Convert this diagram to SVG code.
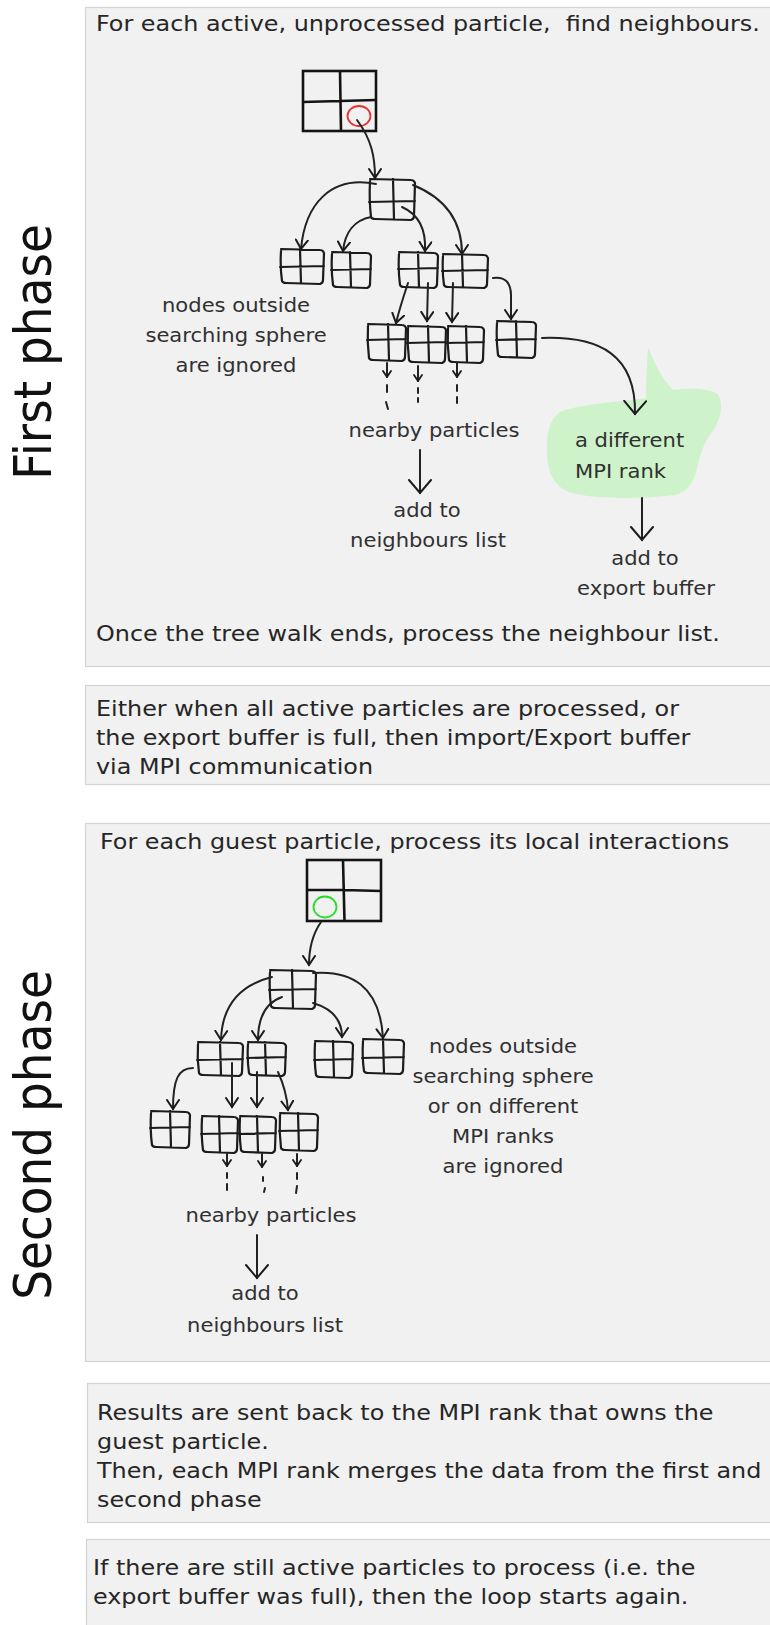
<svg xmlns="http://www.w3.org/2000/svg" width="770" height="1625" viewBox="0 0 770 1625">
<defs>
<style>
.panel{fill:#f1f1f1;stroke:#d3d3d3;stroke-width:1.2}
.t{font-family:"DejaVu Sans",sans-serif;font-size:21.5px;fill:#262626}
.l{font-family:"DejaVu Sans",sans-serif;font-size:19px;fill:#303030}
.big{font-family:"DejaVu Sans",sans-serif;font-size:47px;fill:#111}
.h{fill:none;stroke:#1b1b1b;stroke-width:2.2;stroke-linecap:round;stroke-linejoin:round}
.e{fill:none;stroke:#222;stroke-width:2;stroke-linecap:round}
.grid{fill:none;stroke:#141414;stroke-width:2.6}
</style>
<marker id="ah" viewBox="0 0 12 14" refX="10" refY="7" markerWidth="12" markerHeight="14" orient="auto" markerUnits="userSpaceOnUse"><path d="M1,1 L10,7 L1,13" fill="none" stroke="#1b1b1b" stroke-width="2" stroke-linecap="round"/></marker>
<marker id="al" viewBox="0 0 16 24" refX="14" refY="12" markerWidth="16" markerHeight="24" orient="auto" markerUnits="userSpaceOnUse"><path d="M1,1 L14,12 L1,23" fill="none" stroke="#1b1b1b" stroke-width="2" stroke-linecap="round"/></marker>
<marker id="at" viewBox="0 0 8 10" refX="7" refY="5" markerWidth="8" markerHeight="10" orient="auto" markerUnits="userSpaceOnUse"><path d="M1,1 L7,5 L1,9" fill="none" stroke="#1b1b1b" stroke-width="1.8" stroke-linecap="round"/></marker>
</defs>
<rect width="770" height="1625" fill="#ffffff"/>

<g id="panels">
<rect class="panel" x="85.5" y="7.5" width="700" height="659"/>
<rect class="panel" x="85.5" y="685.5" width="700" height="99"/>
<rect class="panel" x="85.5" y="823.5" width="700" height="538"/>
<rect class="panel" x="87.5" y="1383.5" width="700" height="139"/>
<rect class="panel" x="86.5" y="1539.5" width="700" height="100"/>
</g>

<g id="phase-labels">
<text class="big" text-anchor="middle" transform="matrix(0,-1,1.11,0,51,352)">First phase</text>
<text class="big" text-anchor="middle" transform="matrix(0,-1,1.11,0,51,1135)">Second phase</text>
</g>

<g id="panel1-text">
<text class="t" xml:space="preserve" transform="matrix(1.11,0,0,1,96,31)">For each active, unprocessed particle,  find neighbours.</text>
<text class="t" transform="matrix(1.11,0,0,1,96,641)">Once the tree walk ends, process the neighbour list.</text>
</g>

<g id="blob">
<path d="M648,347 C655,365 663,380 673,390 C690,388 710,388 717,394 C724,402 722,418 712,432 C704,442 700,455 697,468 C694,482 688,492 675,495 C640,499 600,499 576,494 C556,490 548,475 547,455 C546,435 549,420 560,412 C580,404 620,402 646,398 C646,380 647,362 648,347 Z" fill="#cef3cb"/>
</g>

<g id="grid1">
<rect class="grid" x="303" y="71" width="73" height="60"/>
<path class="grid" d="M340,71 L341,131 M303,102 L340,101 L376,100"/>
<ellipse cx="359" cy="116" rx="11.5" ry="10" fill="none" stroke="#e83232" stroke-width="1.8"/>
</g>

<g id="tree1">
<path id="n1-root" class="h" d="M370,181 Q369,200 371,217 Q372,219 375,219 L411,220 Q414,219 414,216 L415,183 Q414,180 411,180 L370,179 M393,179 L394,219 M369,202 L415,201"/>
<path id="n1-l2a" class="h" d="M281,251 Q280,267 282,281 Q283,283 286,283 L320,284 Q323,283 323,280 L324,253 Q323,250 320,250 L281,249 M300,249 L301,283 M280,267 L324,266"/>
<path id="n1-l2b" class="h" d="M332,254 Q331,270 333,285 Q334,287 337,287 L367,288 Q370,287 370,284 L371,256 Q370,253 367,253 L332,252 M350,252 L351,287 M331,270 L371,269"/>
<path id="n1-l2c" class="h" d="M399,254 Q398,270 400,285 Q401,287 404,287 L434,288 Q437,287 437,284 L438,256 Q437,253 434,253 L399,252 M418,252 L419,287 M398,269 L438,268"/>
<path id="n1-l2d" class="h" d="M443,256 Q442,271 444,285 Q445,287 448,287 L484,288 Q487,287 487,284 L488,258 Q487,255 484,255 L443,254 M462,254 L463,287 M442,271 L488,270"/>
<path id="n1-l3a" class="h" d="M368,326 Q367,342 369,358 Q370,360 373,360 L402,361 Q405,360 405,357 L406,328 Q405,325 402,325 L368,324 M388,324 L389,360 M367,340 L406,339"/>
<path id="n1-l3b" class="h" d="M408,328 Q407,344 409,360 Q410,362 413,362 L442,363 Q445,362 445,359 L446,330 Q445,327 442,327 L408,326 M428,326 L429,362 M407,343 L446,342"/>
<path id="n1-l3c" class="h" d="M448,328 Q447,344 449,360 Q450,362 453,362 L480,363 Q483,362 483,359 L484,330 Q483,327 480,327 L448,326 M466,326 L467,362 M447,343 L484,342"/>
<path id="n1-l3d" class="h" d="M497,323 Q496,339 498,355 Q499,357 502,357 L532,358 Q535,357 535,354 L536,325 Q535,322 532,322 L497,321 M516,321 L517,357 M496,340 L536,339"/>
</g>

<g id="labels1">
<text class="l" text-anchor="middle" transform="matrix(1.11,0,0,1,236,312)">nodes outside</text>
<text class="l" text-anchor="middle" transform="matrix(1.11,0,0,1,236,342)">searching sphere</text>
<text class="l" text-anchor="middle" transform="matrix(1.11,0,0,1,236,372)">are ignored</text>
<text class="l" text-anchor="middle" transform="matrix(1.11,0,0,1,434,437)">nearby particles</text>
<text class="l" text-anchor="middle" transform="matrix(1.11,0,0,1,427,517)">add to</text>
<text class="l" text-anchor="middle" transform="matrix(1.11,0,0,1,428,547)">neighbours list</text>
<text class="l" transform="matrix(1.11,0,0,1,575,447)">a different</text>
<text class="l" transform="matrix(1.11,0,0,1,575,478)">MPI rank</text>
<text class="l" text-anchor="middle" transform="matrix(1.11,0,0,1,645,565)">add to</text>
<text class="l" text-anchor="middle" transform="matrix(1.11,0,0,1,646,595)">export buffer</text>
</g>

<g id="panel2-text">
<text class="t" transform="matrix(1.11,0,0,1,96,716)">Either when all active particles are processed, or</text>
<text class="t" transform="matrix(1.11,0,0,1,96,745)">the export buffer is full, then import/Export buffer</text>
<text class="t" transform="matrix(1.11,0,0,1,96,774)">via MPI communication</text>
</g>

<g id="panel3-text">
<text class="t" transform="matrix(1.11,0,0,1,100,849)">For each guest particle, process its local interactions</text>
</g>

<g id="grid2">
<rect class="grid" x="307" y="860" width="74" height="61"/>
<path class="grid" d="M343,860 L344.5,921 M307,890 L344,890 L381,891"/>
<ellipse cx="325" cy="907" rx="11.5" ry="10.5" fill="none" stroke="#27dd27" stroke-width="1.8"/>
</g>

<g id="tree2">
<path id="n2-root" class="h" d="M270,972 Q269,990 271,1006 Q272,1008 275,1008 L312,1009 Q315,1008 315,1005 L316,974 Q315,971 312,971 L270,970 M292,970 L293,1008 M269,990 L316,989"/>
<path id="n2-l2a" class="h" d="M198,1044 Q197,1059 199,1073 Q200,1075 203,1075 L239,1076 Q242,1075 242,1072 L243,1046 Q242,1043 239,1043 L198,1042 M220,1042 L221,1075 M197,1060 L243,1059"/>
<path id="n2-l2b" class="h" d="M248,1044 Q247,1059 249,1073 Q250,1075 253,1075 L282,1076 Q285,1075 285,1072 L286,1046 Q285,1043 282,1043 L248,1042 M265,1042 L266,1075 M247,1058 L286,1057"/>
<path id="n2-l2c" class="h" d="M315,1043 Q314,1060 316,1075 Q317,1077 320,1077 L349,1078 Q352,1077 352,1074 L353,1045 Q352,1042 349,1042 L315,1041 M333,1041 L334,1077 M314,1060 L353,1059"/>
<path id="n2-l2d" class="h" d="M363,1041 Q362,1057 364,1071 Q365,1073 368,1073 L400,1074 Q403,1073 403,1070 L404,1043 Q403,1040 400,1040 L363,1039 M383,1039 L384,1073 M362,1058 L404,1057"/>
<path id="n2-l3a" class="h" d="M151,1113 Q150,1130 152,1145 Q153,1147 156,1147 L186,1148 Q189,1147 189,1144 L190,1115 Q189,1112 186,1112 L151,1111 M170,1111 L171,1147 M150,1128 L190,1127"/>
<path id="n2-l3b" class="h" d="M202,1118 Q201,1135 203,1150 Q204,1152 207,1152 L234,1153 Q237,1152 237,1149 L238,1120 Q237,1117 234,1117 L202,1116 M219,1116 L220,1152 M201,1134 L238,1133"/>
<path id="n2-l3c" class="h" d="M240,1118 Q239,1135 241,1150 Q242,1152 245,1152 L272,1153 Q275,1152 275,1149 L276,1120 Q275,1117 272,1117 L240,1116 M257,1116 L258,1152 M239,1134 L276,1133"/>
<path id="n2-l3d" class="h" d="M280,1115 Q279,1132 281,1148 Q282,1150 285,1150 L314,1151 Q317,1150 317,1147 L318,1117 Q317,1114 314,1114 L280,1113 M298,1113 L299,1150 M279,1131 L318,1130"/>
</g>

<g id="labels2">
<text class="l" text-anchor="middle" transform="matrix(1.11,0,0,1,503,1053)">nodes outside</text>
<text class="l" text-anchor="middle" transform="matrix(1.11,0,0,1,503,1083)">searching sphere</text>
<text class="l" text-anchor="middle" transform="matrix(1.11,0,0,1,503,1113)">or on different</text>
<text class="l" text-anchor="middle" transform="matrix(1.11,0,0,1,503,1143)">MPI ranks</text>
<text class="l" text-anchor="middle" transform="matrix(1.11,0,0,1,503,1173)">are ignored</text>
<text class="l" text-anchor="middle" transform="matrix(1.11,0,0,1,271,1222)">nearby particles</text>
<text class="l" text-anchor="middle" transform="matrix(1.11,0,0,1,265,1300)">add to</text>
<text class="l" text-anchor="middle" transform="matrix(1.11,0,0,1,265,1332)">neighbours list</text>
</g>

<g id="panel4-text">
<text class="t" transform="matrix(1.11,0,0,1,97,1420)">Results are sent back to the MPI rank that owns the</text>
<text class="t" transform="matrix(1.11,0,0,1,97,1449)">guest particle.</text>
<text class="t" transform="matrix(1.11,0,0,1,97,1478)">Then, each MPI rank merges the data from the first and</text>
<text class="t" transform="matrix(1.11,0,0,1,97,1507)">second phase</text>
</g>

<g id="panel5-text">
<text class="t" transform="matrix(1.11,0,0,1,93,1575)">If there are still active particles to process (i.e. the</text>
<text class="t" transform="matrix(1.11,0,0,1,93,1604)">export buffer was full), then the loop starts again.</text>
</g>

<g id="connectors">
<path class="e" d="M357,120 C372,140 375,158 375,178" marker-end="url(#ah)"/>
<path class="e" d="M376,184 C330,175 305,205 301,249" marker-end="url(#ah)"/>
<path class="e" d="M371,217 C355,220 345,232 343,251" marker-end="url(#ah)"/>
<path class="e" d="M402,207 C420,215 426,232 425,251" marker-end="url(#ah)"/>
<path class="e" d="M413,185 C445,198 462,220 462,254" marker-end="url(#ah)"/>
<path class="e" d="M408,283 C404,295 400,307 396,323" marker-end="url(#ah)"/>
<path class="e" d="M428,283 L427,321" marker-end="url(#ah)"/>
<path class="e" d="M453,283 L452,322" marker-end="url(#ah)"/>
<path class="e" d="M493,278 C505,276 511,283 511,295 L511,319" marker-end="url(#ah)"/>
<path class="e" d="M542,338 C600,336 636,355 635,414" marker-end="url(#al)"/>
<path class="e" d="M387,363 L387,377" marker-end="url(#at)"/>
<path class="e" d="M387,385 L387,392 M386,402 L388,409"/>
<path class="e" d="M418,366 L418,381" marker-end="url(#at)"/>
<path class="e" d="M418,388 L418,393 M418,398 L418,402"/>
<path class="e" d="M457,363 L457,377" marker-end="url(#at)"/>
<path class="e" d="M457,385 L457,391 M457,397 L457,403"/>
<path class="e" d="M420,450 L420,493" marker-end="url(#al)"/>
<path class="e" d="M642,498 L642,540" marker-end="url(#al)"/>

<path class="e" d="M321,922 C312,935 309,950 309,965" marker-end="url(#ah)"/>
<path class="e" d="M272,977 C240,985 222,1005 221,1040" marker-end="url(#ah)"/>
<path class="e" d="M282,997 C265,1003 258,1018 258,1040" marker-end="url(#ah)"/>
<path class="e" d="M313,1003 C330,1008 342,1018 342,1037" marker-end="url(#ah)"/>
<path class="e" d="M313,973 C350,970 380,985 383,1038" marker-end="url(#ah)"/>
<path class="e" d="M193,1068 C178,1068 173,1080 173,1109" marker-end="url(#ah)"/>
<path class="e" d="M232,1063 L232,1107" marker-end="url(#ah)"/>
<path class="e" d="M257,1072 L257,1107" marker-end="url(#ah)"/>
<path class="e" d="M278,1072 C284,1085 287,1097 288,1110" marker-end="url(#ah)"/>
<path class="e" d="M227,1154 L227,1166" marker-end="url(#at)"/>
<path class="e" d="M227,1173 L227,1178 M227,1184 L227,1190"/>
<path class="e" d="M262,1154 L262,1167" marker-end="url(#at)"/>
<path class="e" d="M263,1177 L263,1181 M265,1188 L264,1192"/>
<path class="e" d="M297,1154 L297,1166" marker-end="url(#at)"/>
<path class="e" d="M297,1173 L297,1179 M297,1186 L296,1193"/>
<path class="e" d="M257,1235 L257,1278" marker-end="url(#al)"/>
</g>
</svg>
